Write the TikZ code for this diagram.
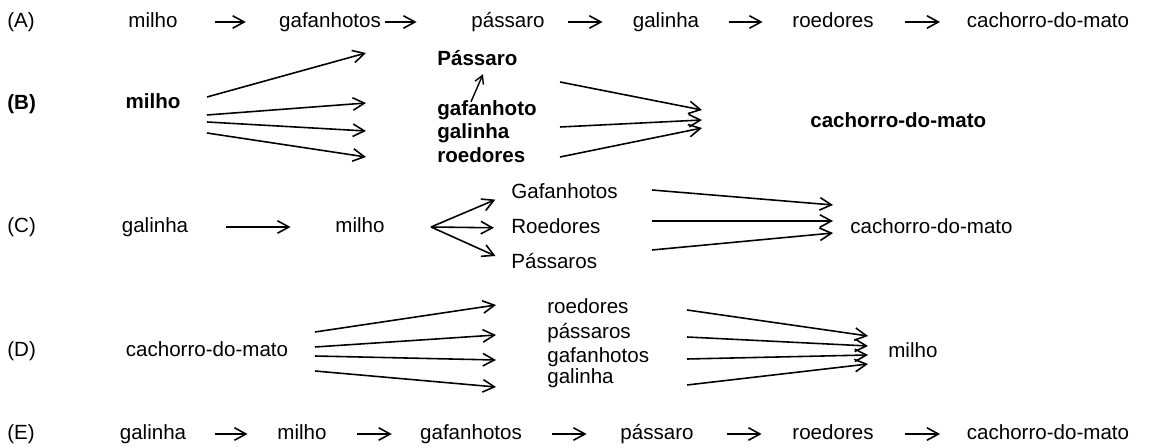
\documentclass[tikz,border=0pt]{standalone}
\usepackage{fontspec}
\setmainfont{Liberation Sans}
\usetikzlibrary{arrows.meta}

\tikzset{
  lbl/.style={font=\fontsize{11.7}{14}\selectfont, inner sep=0pt, text height=1.4ex, text depth=0.3ex},
  lblb/.style={lbl, font=\fontsize{11.7}{14}\selectfont\bfseries},
  arr/.style={line width=0.9pt, -{Straight Barb[length=2.3mm, width=2.5mm]}},
  arrs/.style={line width=0.8pt, -{Straight Barb[length=1.6mm, width=1.8mm]}},
}

\begin{document}
\begin{tikzpicture}[x=0.02cm, y=-0.02cm]
\useasboundingbox (0,0) rectangle (1158,448);

% ---- Row (A): simple chain ----
\node[lbl, anchor=west] (labA) at (7, 22) {(A)};
\node[lbl] (milA) at (153, 22) {milho};
\node[lbl] (gafA) at (330, 22) {gafanhotos};
\node[lbl] (pasA) at (508, 22) {pássaro};
\node[lbl] (galA) at (666, 22) {galinha};
\node[lbl] (roeA) at (833, 22) {roedores};
\node[lbl] (cacA) at (1048, 22) {cachorro-do-mato};
\foreach \a/\b/\s/\e in {milA/gafA/7.5/6.6, gafA/pasA/0.8/10.9, pasA/galA/4.7/6,
                         galA/roeA/5.8/5.9, roeA/cacA/6.3/5.3} {
  \draw[arr, shorten <=\s mm, shorten >=\e mm] (\a) -- (\b);
}

% ---- Row (B): bold, fan out and fan in ----
\node[lblb, anchor=west] (labB) at (7, 104) {(B)};
\node[lblb] (milB) at (153, 103) {milho};
\node[lblb, anchor=west] (pasB) at (437, 60) {Pássaro};
\node[lblb, anchor=west] (gafB) at (437, 110) {gafanhoto};
\node[lblb, anchor=west] (galB) at (437, 133) {galinha};
\node[lblb, anchor=west] (roeB) at (437, 157) {roedores};
\node[lblb, anchor=west] (cacB) at (810, 122) {cachorro-do-mato};
\draw[arrs] ([shift={(34,0)}]gafB.north west) -- ([shift={(46,6)}]pasB.south west);
% arrows leaving milho
\foreach \i/\ys/\ye in {1/97/53, 2/115/103, 3/122/131, 4/133/157} {
  \coordinate (bS\i) at (207, \ys);
  \coordinate (bE\i) at (366, \ye);
  \draw[arr] (bS\i) -- (bE\i);
}
% arrows towards cachorro-do-mato
\foreach \i/\ys/\ye in {1/82/110, 2/127/120, 3/157/128} {
  \coordinate (bR\i) at (560, \ys);
  \coordinate (bT\i) at (702, \ye);
  \draw[arr] (bR\i) -- (bT\i);
}

% ---- Row (C) ----
\node[lbl, anchor=west] (labC) at (7, 227) {(C)};
\node[lbl] (galC) at (155, 227) {galinha};
\node[lbl] (milC) at (360, 227) {milho};
\node[lbl, anchor=west] (gafC) at (511, 193) {Gafanhotos};
\node[lbl, anchor=west] (roeC) at (511, 228) {Roedores};
\node[lbl, anchor=west] (pasC) at (511, 263) {Pássaros};
\node[lbl, anchor=west] (cacC) at (850, 228) {cachorro-do-mato};
\draw[arr, shorten <=7.6mm, shorten >=8.9mm] (galC) -- (milC);
\coordinate (forkC) at (431, 227);
\foreach \t in {gafC, roeC, pasC} {
  \draw[arr, shorten >=3.4mm] (forkC) -- (\t.west);
}
\foreach \i/\ys/\ye in {1/190/205, 2/221/221, 3/250/233} {
  \coordinate (cS\i) at (652, \ys);
  \coordinate (cE\i) at (833, \ye);
  \draw[arr] (cS\i) -- (cE\i);
}

% ---- Row (D) ----
\node[lbl, anchor=west] (labD) at (7, 351) {(D)};
\node[lbl] (cacD) at (207, 351) {cachorro-do-mato};
\node[lbl, anchor=west] (roeD) at (547, 308) {roedores};
\node[lbl, anchor=west] (pasD) at (547, 333) {pássaros};
\node[lbl, anchor=west] (gafD) at (547, 357) {gafanhotos};
\node[lbl, anchor=west] (galD) at (547, 378) {galinha};
\node[lbl, anchor=west] (milD) at (888, 352) {milho};
\foreach \i/\ys/\ye in {1/332/305, 2/347/335, 3/356/360, 4/371/387} {
  \coordinate (dS\i) at (315, \ys);
  \coordinate (dE\i) at (496, \ye);
  \draw[arr] (dS\i) -- (dE\i);
}
\foreach \i/\ys/\ye in {1/310/336, 2/337/346, 3/359/355, 4/385/364} {
  \coordinate (dR\i) at (687, \ys);
  \coordinate (dT\i) at (868, \ye);
  \draw[arr] (dR\i) -- (dT\i);
}

% ---- Row (E): simple chain ----
\node[lbl, anchor=west] (labE) at (7, 434) {(E)};
\node[lbl] (galE) at (153, 434) {galinha};
\node[lbl] (milE) at (302, 434) {milho};
\node[lbl] (gafE) at (471, 434) {gafanhotos};
\node[lbl] (pasE) at (657, 434) {pássaro};
\node[lbl] (roeE) at (833, 434) {roedores};
\node[lbl] (cacE) at (1048, 434) {cachorro-do-mato};
\foreach \a/\b/\s/\e in {galE/milE/5.8/5.9, milE/gafE/6.1/5.6, gafE/pasE/6/6.7,
                         pasE/roeE/6.7/6.1, roeE/cacE/6.3/5.3} {
  \draw[arr, shorten <=\s mm, shorten >=\e mm] (\a) -- (\b);
}

\end{tikzpicture}
\end{document}
